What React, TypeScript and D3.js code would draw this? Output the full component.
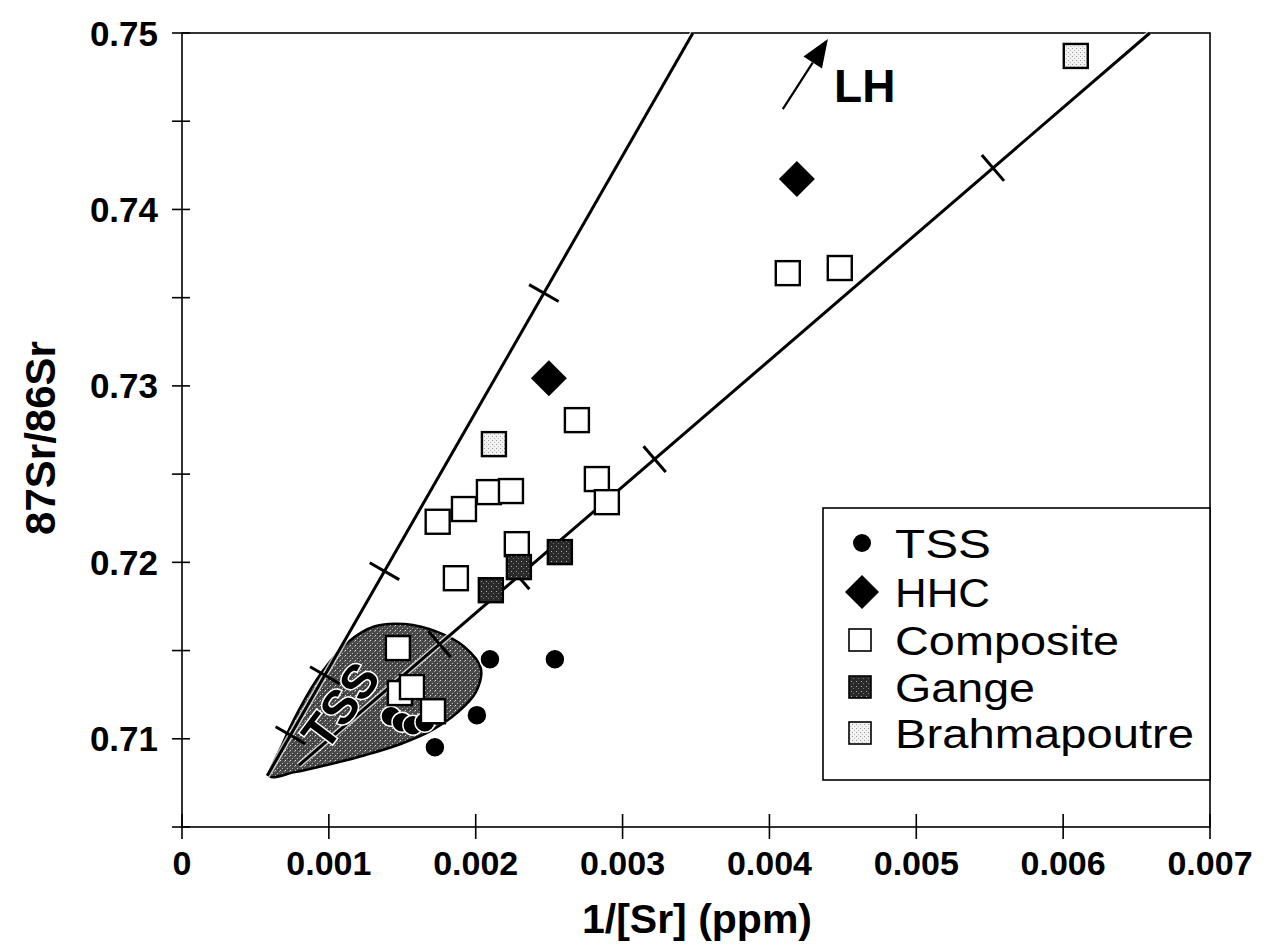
import React from "react";
import * as d3 from "d3";

const W = 1273;
const H = 947;

// axis ticks
const xTicks = [0, 0.001, 0.002, 0.003, 0.004, 0.005, 0.006, 0.007];
const xTickLabels = ["0", "0.001", "0.002", "0.003", "0.004", "0.005", "0.006", "0.007"];
const yTicks = [0.705, 0.71, 0.715, 0.72, 0.725, 0.73, 0.735, 0.74, 0.745, 0.75];
const yTickLabels = ["", "0.71", "", "0.72", "", "0.73", "", "0.74", "", "0.75"];

// series: [1/Sr, 87Sr/86Sr]
const tss = [
  [0.002097, 0.71451],
  [0.002539, 0.71451],
  [0.002008, 0.71134],
  [0.001722, 0.70952],
  [0.001423, 0.71128],
  [0.001498, 0.71094],
  [0.001572, 0.71077],
  [0.001654, 0.71094],
];
const hhc = [
  [0.002498, 0.73044],
  [0.004187, 0.74172],
];
const composite = [
  [0.001484, 0.71259],
  [0.00147, 0.71514],
  [0.001566, 0.71293],
  [0.001709, 0.71156],
  [0.001741, 0.7223],
  [0.00192, 0.72302],
  [0.00209, 0.72398],
  [0.00224, 0.72404],
  [0.002689, 0.72806],
  [0.002825, 0.72472],
  [0.002893, 0.72341],
  [0.00228, 0.72103],
  [0.001865, 0.7191],
  [0.004125, 0.73639],
  [0.004479, 0.73668],
];
const gange = [
  [0.002573, 0.72058],
  [0.002294, 0.71973],
  [0.002103, 0.71842],
];
const brahma = [
  [0.002124, 0.7267],
  [0.006086, 0.7487],
];

// TSS field outline
const tssField = [
  [0.000599, 0.70788],
  [0.000681, 0.70964],
  [0.000803, 0.71174],
  [0.000953, 0.71378],
  [0.00113, 0.71548],
  [0.001314, 0.71638],
  [0.001518, 0.7165],
  [0.001743, 0.71604],
  [0.001926, 0.71519],
  [0.002035, 0.714],
  [0.002001, 0.71264],
  [0.001879, 0.71151],
  [0.001702, 0.71049],
  [0.001484, 0.70969],
  [0.001246, 0.70907],
  [0.001007, 0.70856],
  [0.000769, 0.70811],
];

// mixing lines and their tick marks (by 87Sr/86Sr value)
const leftLine = [
  [0.00058, 0.7079],
  [0.003479, 0.75],
];
const leftLineTicks = [0.7102, 0.7136, 0.7195, 0.73526];
const rightLine = [
  [0.000796, 0.7085],
  [0.00659, 0.75],
];
const rightLineTicks = [0.71536, 0.7192, 0.72585, 0.74235];

const lhArrow = [
  [0.004091, 0.74569],
  [0.004398, 0.74966],
];

const legendItems = ["TSS", "HHC", "Composite", "Gange", "Brahmapoutre"];

const FONT = "'Liberation Sans', Arial, Helvetica, sans-serif";

export default function App() {
  const x = d3.scaleLinear().domain([0, 0.007]).range([182, 1210]);
  const y = d3.scaleLinear().domain([0.705, 0.75]).range([827, 33]);

  const fieldPath = d3
    .line()
    .x((d) => x(d[0]))
    .y((d) => y(d[1]))
    .curve(d3.curveCatmullRomClosed.alpha(0.5))(tssField as any);

  const lineTicks = (ln, vals) => {
    const x0 = x(ln[0][0]), y0 = y(ln[0][1]);
    const x1 = x(ln[1][0]), y1 = y(ln[1][1]);
    const len = Math.hypot(x1 - x0, y1 - y0);
    const nx = -(y1 - y0) / len, ny = (x1 - x0) / len;
    return vals.map((v) => {
      const py = y(v);
      const t = (py - y0) / (y1 - y0);
      const px = x0 + t * (x1 - x0);
      return [px - nx * 17, py - ny * 17, px + nx * 17, py + ny * 17];
    });
  };

  const sq = 24;
  const square = (d, fill, key) => (
    <rect key={key} x={x(d[0]) - sq / 2} y={y(d[1]) - sq / 2} width={sq} height={sq}
      fill={fill} stroke="#000" strokeWidth={2.4} />
  );
  const diamond = (cx, cy, r) => `M${cx},${cy - r}L${cx + r},${cy}L${cx},${cy + r}L${cx - r},${cy}Z`;

  // arrow
  const ax0 = x(lhArrow[0][0]), ay0 = y(lhArrow[0][1]);
  const ax1 = x(lhArrow[1][0]), ay1 = y(lhArrow[1][1]);
  const al = Math.hypot(ax1 - ax0, ay1 - ay0);
  const ux = (ax1 - ax0) / al, uy = (ay1 - ay0) / al;
  const hb = [ax1 - ux * 28, ay1 - uy * 28];
  const head = `M${ax1},${ay1}L${hb[0] - uy * 11},${hb[1] + ux * 11}L${hb[0] + uy * 11},${hb[1] - ux * 11}Z`;

  const legendY = [543, 592, 640, 687, 733];

  return (
    <svg width={W} height={H} style={{ position: "absolute", left: 0, top: 0, background: "#fff" }}
      fontFamily={FONT}>
      <defs>
        <pattern id="stipField" width="5" height="5" patternUnits="userSpaceOnUse">
          <rect width="5" height="5" fill="#4a4a4a" />
          <rect x="0" y="0" width="1" height="1" fill="#e0e0e0" />
          <rect x="2" y="3" width="1" height="1" fill="#bbbbbb" />
          <rect x="4" y="1" width="1" height="1" fill="#999" />
          <rect x="3" y="4" width="1" height="1" fill="#222" />
        </pattern>
        <pattern id="stipGange" width="5" height="5" patternUnits="userSpaceOnUse">
          <rect width="5" height="5" fill="#2a2a2a" />
          <rect x="1" y="1" width="1" height="1" fill="#aaa" />
          <rect x="3" y="3" width="1" height="1" fill="#777" />
        </pattern>
        <pattern id="stipBrahma" width="4" height="4" patternUnits="userSpaceOnUse">
          <rect width="4" height="4" fill="#f2f2f2" />
          <rect x="0" y="0" width="1" height="1" fill="#999" />
          <rect x="2" y="2" width="1" height="1" fill="#bbb" />
        </pattern>
      </defs>

      {/* frame */}
      <rect x={x(0)} y={y(0.75)} width={x(0.007) - x(0)} height={y(0.705) - y(0.75)}
        fill="none" stroke="#000" strokeWidth={1.6} />

      {/* y ticks */}
      {yTicks.map((t, i) => (
        <g key={"y" + i}>
          <line x1={x(0) - 10} x2={x(0) + 8} y1={y(t)} y2={y(t)} stroke="#000" strokeWidth={1.6} />
          {yTickLabels[i] && (
            <text x={158} y={y(t)} dy="0.36em" textAnchor="end" fontSize={35} fontWeight="bold">
              {yTickLabels[i]}
            </text>
          )}
        </g>
      ))}
      {/* x ticks */}
      {xTicks.map((t, i) => (
        <g key={"x" + i}>
          <line x1={x(t)} x2={x(t)} y1={y(0.705) - 13} y2={y(0.705) + 12} stroke="#000" strokeWidth={1.6} />
          <text x={x(t)} y={875} textAnchor="middle" fontSize={34} fontWeight="bold">
            {xTickLabels[i]}
          </text>
        </g>
      ))}

      <text x={697} y={933} textAnchor="middle" fontSize={41} fontWeight="bold">1/[Sr] (ppm)</text>
      <text transform="translate(55,438) rotate(-90)" textAnchor="middle" fontSize={42} fontWeight="bold">
        87Sr/86Sr
      </text>

      {/* TSS field */}
      <path d={fieldPath} fill="url(#stipField)" stroke="#000" strokeWidth={2.5} />

      {/* mixing lines */}
      {[leftLine, rightLine].map((ln, i) => (
        <g key={"ml" + i}>
          <line x1={x(ln[0][0])} y1={y(ln[0][1])} x2={x(ln[1][0])} y2={y(ln[1][1])}
            stroke="#fff" strokeWidth={6} strokeOpacity={0.7} />
          <line x1={x(ln[0][0])} y1={y(ln[0][1])} x2={x(ln[1][0])} y2={y(ln[1][1])}
            stroke="#000" strokeWidth={3} />
          {lineTicks(ln, i === 0 ? leftLineTicks : rightLineTicks).map((s, j) => (
            <line key={j} x1={s[0]} y1={s[1]} x2={s[2]} y2={s[3]} stroke="#000" strokeWidth={3} />
          ))}
        </g>
      ))}

      <text transform={`translate(${x(0.001076)},${y(0.7119)}) rotate(-53)`} textAnchor="middle" dy="0.36em"
        fontSize={48} fontWeight="bold" fill="#000" stroke="#fff" strokeWidth={3} paintOrder="stroke">
        TSS
      </text>

      {/* TSS samples */}
      {tss.map((d, i) => (
        <circle key={"t" + i} cx={x(d[0])} cy={y(d[1])} r={10} fill="#000" stroke="#fff" strokeWidth={1.5} />
      ))}
      {/* HHC */}
      {hhc.map((d, i) => (
        <path key={"h" + i} d={diamond(x(d[0]), y(d[1]), 18)} fill="#000" />
      ))}
      {composite.map((d, i) => square(d, "#fff", "c" + i))}
      {gange.map((d, i) => square(d, "url(#stipGange)", "g" + i))}
      {brahma.map((d, i) => square(d, "url(#stipBrahma)", "b" + i))}

      {/* LH arrow */}
      <line x1={ax0} y1={ay0} x2={hb[0]} y2={hb[1]} stroke="#000" strokeWidth={2.2} />
      <path d={head} fill="#000" />
      <text x={x(0.00444)} y={y(0.7461)} fontSize={46} fontWeight="bold">LH</text>

      {/* legend */}
      <rect x={823} y={508} width={1210 - 823} height={780 - 508} fill="#fff" stroke="#000" strokeWidth={1.6} />
      {legendItems.map((name, i) => {
        const cy = legendY[i];
        let mark;
        if (i === 0) mark = <circle cx={862} cy={cy} r={9} fill="#000" />;
        else if (i === 1) mark = <path d={diamond(862, cy, 17)} fill="#000" />;
        else {
          const fill = i === 2 ? "#fff" : i === 3 ? "url(#stipGange)" : "url(#stipBrahma)";
          mark = <rect x={860 - 11} y={cy - 11} width={22} height={22} fill={fill} stroke="#000" strokeWidth={1.6} />;
        }
        return (
          <g key={"l" + i}>
            {mark}
            <text x={895} y={cy} dy="0.36em" fontSize={41} textLength={
              [96, 95, 224, 140, 299][i]
            } lengthAdjust="spacingAndGlyphs">{name}</text>
          </g>
        );
      })}
    </svg>
  );
}
